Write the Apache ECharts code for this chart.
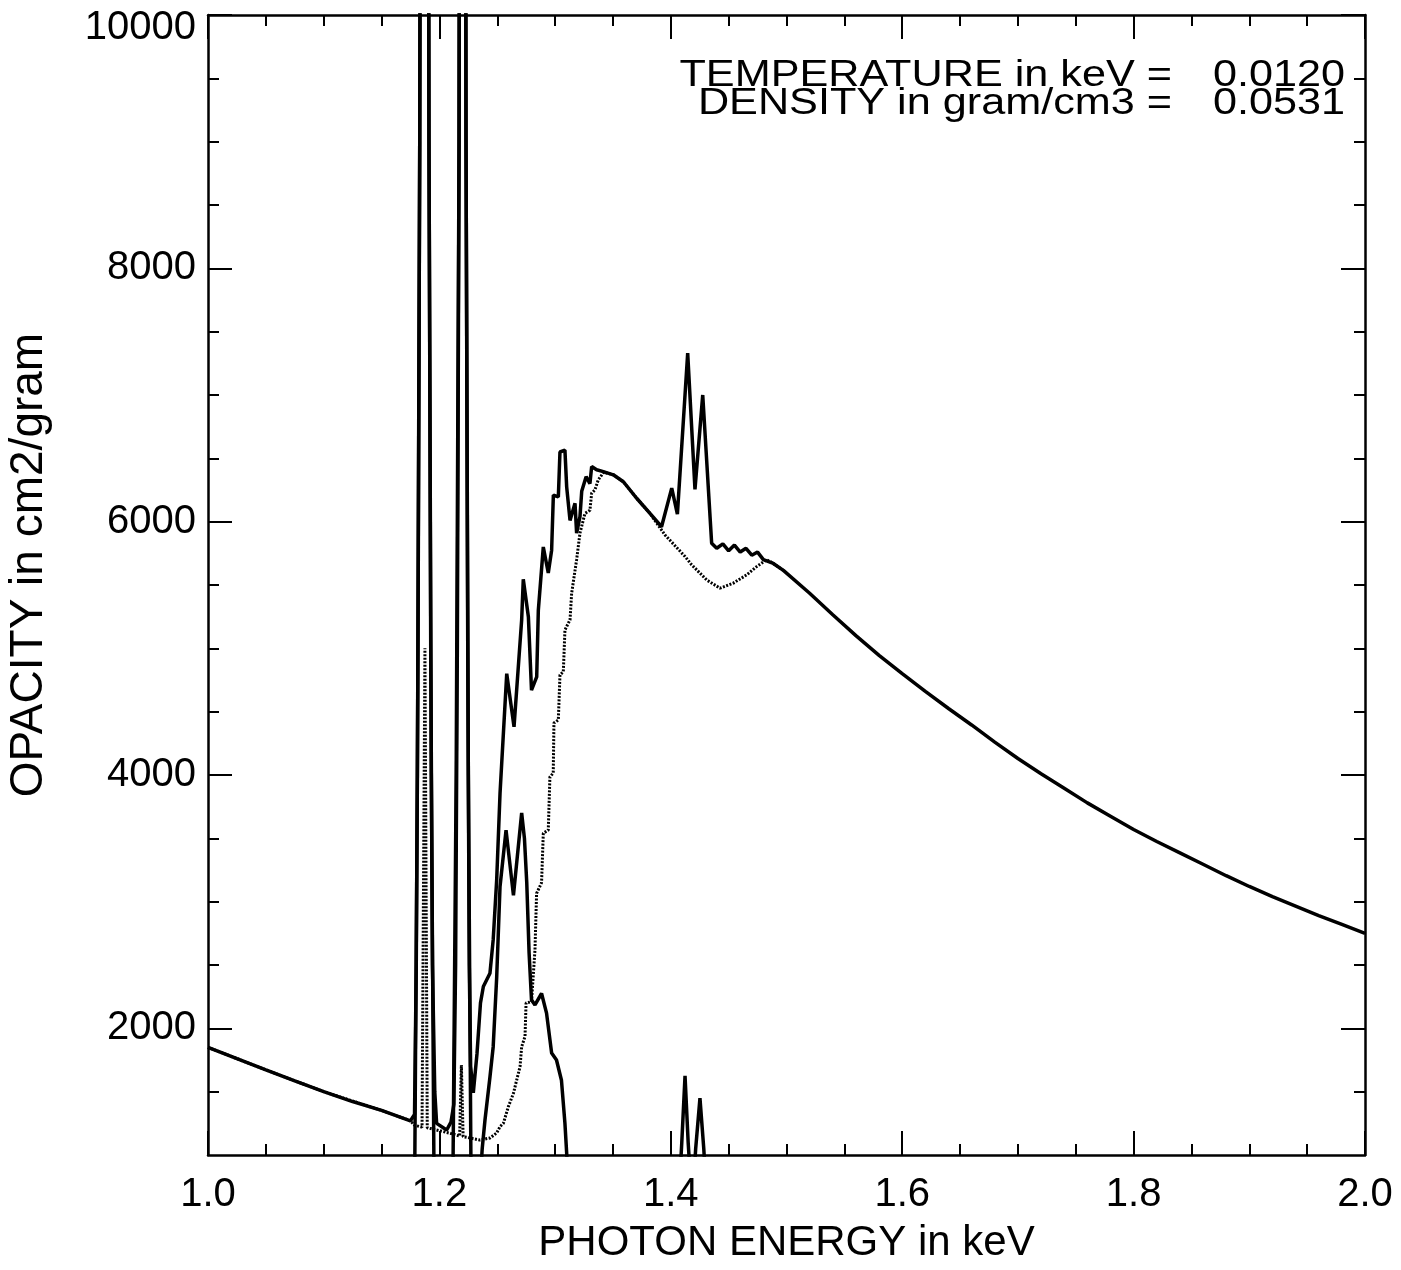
<!DOCTYPE html>
<html>
<head>
<meta charset="utf-8">
<title>Opacity vs photon energy</title>
<script src="https://cdn.jsdelivr.net/npm/echarts@6/dist/echarts.min.js"></script>
<style>
  html, body { margin: 0; padding: 0; background: #fff; }
  #chart { width: 1401px; height: 1270px; }
</style>
</head>
<body>
<div id="chart"></div>
<script>
// total opacity (solid, upper curve)
var totalEnergy = [1.000, 1.025, 1.050, 1.075, 1.100, 1.125, 1.150, 1.175, 1.1785, 1.1800, 1.1815, 1.1830, 1.1870, 1.1910, 1.1925, 1.1940, 1.1960, 1.1976,
  1.2063, 1.2100, 1.2125, 1.2140, 1.2155, 1.2170, 1.2200, 1.2230, 1.2245, 1.2258, 1.2270, 1.2293, 1.2325, 1.2355, 1.2380, 1.2437, 1.2465,
  1.2495, 1.2524, 1.2582, 1.2645, 1.2711, 1.2725, 1.2769, 1.2796, 1.2841, 1.2855, 1.2898, 1.2941, 1.2970, 1.2985, 1.3028, 1.3042, 1.3085,
  1.3100, 1.3129, 1.3172, 1.3186, 1.3215, 1.3230, 1.3268, 1.3301, 1.3316, 1.3359, 1.3417, 1.3503, 1.3590, 1.3705, 1.3820, 1.3920, 1.4008,
  1.4057, 1.4146, 1.4209, 1.4276, 1.4353, 1.4397, 1.4450, 1.4500, 1.4550, 1.4600, 1.4650, 1.4700, 1.4750, 1.4800, 1.4886, 1.4973,
  1.52, 1.54, 1.56, 1.58, 1.60, 1.62, 1.64, 1.66, 1.68, 1.70, 1.72, 1.74, 1.76, 1.78, 1.80,
  1.82, 1.84, 1.86, 1.88, 1.90, 1.92, 1.94, 1.96, 1.98, 2.00];
var totalOpacity = [1850, 1760, 1672, 1585, 1500, 1422, 1352, 1270, 1320, 2500, 5000, 9000, 30000, 9000, 5000, 2500, 1500, 1250,
  1197, 1260, 1400, 2500, 5000, 9000, 30000, 9000, 5000, 2500, 1700, 1490, 1800, 2200, 2330, 2435, 2700,
  3170, 3855, 4800, 4380, 5225, 5545, 5250, 4670, 4775, 5300, 5800, 5595, 5775, 6210, 6195, 6550, 6565,
  6275, 6010, 6145, 5910, 6040, 6240, 6355, 6300, 6435, 6410, 6395, 6370, 6315, 6185, 6065, 5960, 6265,
  6060, 7330, 6255, 7000, 5830, 5790, 5825, 5770, 5815, 5760, 5790, 5735, 5760, 5700, 5670, 5615,
  5435, 5265, 5100, 4945, 4800, 4660, 4525, 4395, 4260, 4130, 4010, 3895, 3780, 3675, 3570,
  3475, 3385, 3295, 3205, 3120, 3040, 2965, 2890, 2820, 2750];

// dotted curve
var dottedEnergy = [1.000, 1.050, 1.100, 1.150, 1.175, 1.1785, 1.1850, 1.1875, 1.1895, 1.2090, 1.2175, 1.2190, 1.2205, 1.2265, 1.2350,
  1.2437, 1.2495, 1.2524, 1.2553, 1.2596, 1.2640, 1.2668, 1.2697, 1.2711, 1.2740, 1.2749, 1.2796, 1.2826, 1.2840, 1.2883, 1.2898,
  1.2941, 1.2955, 1.2984, 1.2990, 1.3028, 1.3042, 1.3071, 1.3085, 1.3129, 1.3143, 1.3186, 1.3215, 1.3258, 1.3301, 1.3316, 1.3344,
  1.3373, 1.3420, 1.3503, 1.3590, 1.3705, 1.3820, 1.3950, 1.4123, 1.4180, 1.4310, 1.4425, 1.4540, 1.4656, 1.4742, 1.4829, 1.4886, 1.4973];
var dottedOpacity = [1850, 1672, 1500, 1352, 1270, 1235, 1220, 5000, 1215, 1172, 1150, 1710, 1145, 1134, 1118,
  1134, 1174, 1224, 1250, 1382, 1487, 1592, 1697, 1855, 1935, 2200, 2210, 2618, 3065, 3150, 3540,
  3565, 3985, 4015, 4410, 4435, 4790, 4815, 5145, 5225, 5435, 5700, 5910, 6065, 6090, 6225, 6250,
  6330, 6390, 6370, 6315, 6185, 6065, 5895, 5725, 5660, 5540, 5475, 5515, 5580, 5645, 5700, 5670, 5615];

// lower solid curve (lines)
var lineEnergy = [1.000, 1.1785, 1.1810, 1.1830, 1.1870, 1.1910, 1.1930, 1.1955, 1.2115, 1.2145, 1.2170, 1.2200, 1.2230, 1.2250, 1.2275,
  1.2340, 1.2370, 1.2394, 1.2435, 1.2465, 1.2495, 1.2524, 1.2576, 1.2640, 1.2711, 1.2735, 1.2755, 1.2775, 1.2796, 1.2826, 1.2883,
  1.2926, 1.2970, 1.3012, 1.3055, 1.3085, 1.3100, 1.3130, 1.4060, 1.4095, 1.4123, 1.4150, 1.4185, 1.4215, 1.4252, 1.4285, 1.4320, 2.000];
var lineOpacity = [500, 600, 4000, 9000, 30000, 9000, 4000, 600, 600, 4000, 9000, 30000, 9000, 4000, 600,
  600, 1050, 1276, 1600, 1855, 2400, 3120, 3565, 3050, 3700, 3500, 3150, 2600, 2225, 2185, 2275,
  2120, 1805, 1750, 1590, 1250, 1015, 500, 500, 1100, 1625, 1100, 600, 1050, 1448, 1050, 500, 500];

var yLabels = [2000, 4000, 6000, 8000, 10000];
var yMinor = [1500, 2500, 3000, 3500, 4500, 5000, 5500, 6500, 7000, 7500, 8500, 9000, 9500];

function pairs(xs, ys) {
  return xs.map(function (x, i) { return [x, ys[i]]; });
}

var font = '"Liberation Sans", Arial, Helvetica, sans-serif';
var black = '#000';

var chart = echarts.init(document.getElementById('chart'));

function xAx(pos, show) {
  return {
    type: 'value', position: pos, min: 1, max: 2, interval: 0.2,
    axisLine: { show: true, onZero: false, lineStyle: { color: black, width: 2.5 } },
    axisTick: { show: true, inside: true, length: 24, lineStyle: { color: black, width: 2 } },
    minorTick: { show: true, splitNumber: 4, length: 11, lineStyle: { color: black, width: 2 } },
    splitLine: { show: false },
    minorSplitLine: { show: false },
    axisLabel: {
      show: show, color: black, fontSize: 40, fontFamily: font, margin: 20,
      formatter: function (v) { return v.toFixed(1); }
    },
    name: show ? 'PHOTON ENERGY in keV' : '',
    nameLocation: 'middle', nameGap: 67,
    nameTextStyle: { color: black, fontSize: 42, fontFamily: font }
  };
}

function yAx(pos, major, show) {
  var vals = major ? yLabels : yMinor;
  return {
    type: 'value', position: pos, min: 1000, max: 10000,
    axisLine: { show: major, onZero: false, lineStyle: { color: black, width: 2.5 } },
    axisTick: { show: true, inside: true, length: major ? 24 : 11, customValues: vals, lineStyle: { color: black, width: 2 } },
    splitLine: { show: false },
    axisLabel: {
      show: show, customValues: yLabels, color: black, fontSize: 40, fontFamily: font, margin: 12,
      formatter: function (v) { return v === 10000 ? '{top|10000}' : String(v); },
      rich: { top: { fontSize: 40, fontFamily: font, color: black, padding: [26, 0, 0, 0] } }
    },
    name: show ? 'OPACITY in cm2/gram' : '',
    nameLocation: 'middle', nameGap: 156,
    nameTextStyle: { color: black, fontSize: 46, fontFamily: font, padding: [0, 0, 0, 40] }
  };
}

var noteFont = '36px ' + font;

chart.setOption({
  animation: false,
  backgroundColor: '#fff',
  grid: { left: 208, right: 36, top: 15, bottom: 115, containLabel: false, outerBoundsMode: 'none' },
  xAxis: [xAx('bottom', true), xAx('top', false)],
  yAxis: [yAx('left', true, true), yAx('left', false, false), yAx('right', true, false), yAx('right', false, false)],
  graphic: [
    { type: 'text', x: 1172, y: 76, scaleX: 1.2, style: { text: 'TEMPERATURE in keV =', font: noteFont, fill: black, align: 'right', verticalAlign: 'middle' } },
    { type: 'text', x: 1213, y: 76, scaleX: 1.2, style: { text: '0.0120', font: noteFont, fill: black, align: 'left', verticalAlign: 'middle' } },
    { type: 'text', x: 1172, y: 104, scaleX: 1.2, style: { text: 'DENSITY in gram/cm3 =', font: noteFont, fill: black, align: 'right', verticalAlign: 'middle' } },
    { type: 'text', x: 1213, y: 104, scaleX: 1.2, style: { text: '0.0531', font: noteFont, fill: black, align: 'left', verticalAlign: 'middle' } }
  ],
  series: [
    {
      name: 'dotted', type: 'line', xAxisIndex: 0, yAxisIndex: 0,
      data: pairs(dottedEnergy, dottedOpacity),
      showSymbol: false, symbol: 'none', clip: true,
      lineStyle: { color: black, width: 3, type: [2, 1.5] }
    },
    {
      name: 'lines', type: 'line', xAxisIndex: 0, yAxisIndex: 0,
      data: pairs(lineEnergy, lineOpacity),
      showSymbol: false, symbol: 'none', clip: true,
      lineStyle: { color: black, width: 3.5 }
    },
    {
      name: 'total', type: 'line', xAxisIndex: 0, yAxisIndex: 0,
      data: pairs(totalEnergy, totalOpacity),
      showSymbol: false, symbol: 'none', clip: true,
      lineStyle: { color: black, width: 3.5 }
    }
  ]
});
</script>
</body>
</html>
